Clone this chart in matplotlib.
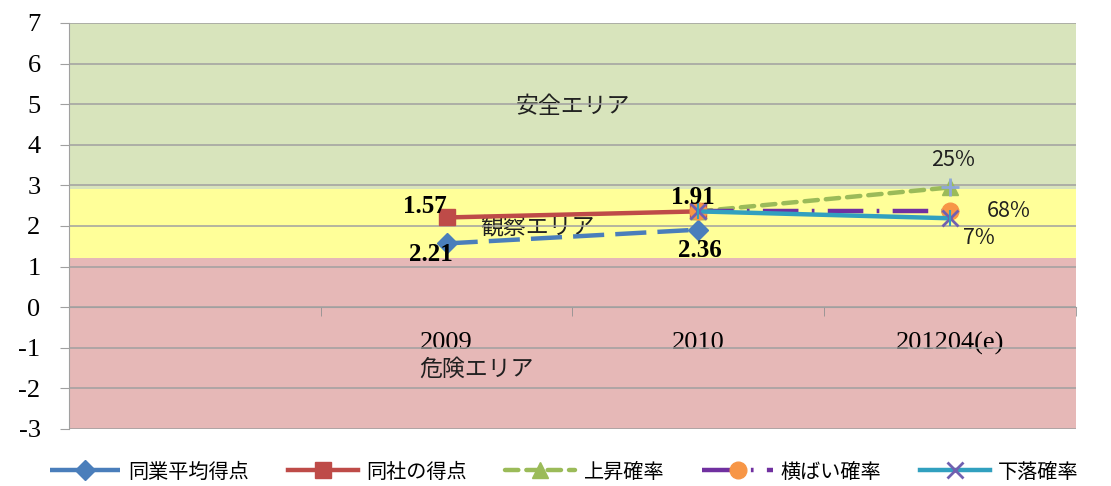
import matplotlib
matplotlib.use("Agg")
import matplotlib.pyplot as plt
from matplotlib.ticker import FixedLocator

plt.rcParams['font.family'] = ['Noto Sans CJK JP', 'DejaVu Sans']
plt.rcParams['axes.unicode_minus'] = False

# categories on the x axis (first slot is left empty in the original)
categories = ['', '2009', '2010', '201204(e)']

# zone bands: (bottom, top, label)
zones = [(2.92, 7, '安全エリア'), (1.2, 2.92, '観察エリア'), (-3, 1.2, '危険エリア')]
zone_label_pos = [(1.5, 4.95), (1.36, 1.97), (1.12, -1.52)]

avg_x = [1, 2]
avg_y = [1.57, 1.91]
avg_labels = ['2.21', '2.36']

co_x = [1, 2]
co_y = [2.21, 2.36]
co_labels = ['1.57', '1.91']

up_x = [2, 3]
up_y = [2.36, 2.95]
flat_y = [2.36, 2.36]
down_y = [2.36, 2.19]
prob_labels = ['25%', '68%', '7%']

fig = plt.figure(figsize=(11.11, 4.86), dpi=100)
ax = fig.add_axes([0.0621, 0.1173, 0.9064, 0.8354])

zone_colors = ['#d8e4bc', '#ffff99', '#e6b8b7']
for (lo, hi, name), c, (tx, ty) in zip(zones, zone_colors, zone_label_pos):
    ax.axhspan(lo, hi, color=c, zorder=0, lw=0)
    ax.text(tx, ty, name, ha='center', va='center', fontsize=16.5,
            color='#202020', zorder=2)

ax.set_xlim(-0.5, 3.5)
ax.set_ylim(-3, 7)
ax.set_yticks(range(-3, 8))
ax.yaxis.grid(True, color='#a0a0a0', lw=1.1, zorder=1)
ax.set_axisbelow(False)
for lab in ax.get_yticklabels():
    lab.set_family(['Liberation Serif'])
ax.tick_params(axis='y', labelsize=19, length=6.5, color='#a0a0a0', pad=14)

ax.spines['top'].set_visible(False)
ax.spines['right'].set_visible(False)
ax.spines['left'].set_color('#a0a0a0')
ax.spines['bottom'].set_position(('data', 0))
ax.spines['bottom'].set_color('#a0a0a0')
ax.set_xticks(range(len(categories)))
ax.set_xticklabels(categories, family=['Liberation Serif'], fontsize=19)
ax.tick_params(axis='x', which='major', length=0, pad=18)
ax.xaxis.set_minor_locator(FixedLocator([0.5, 1.5, 2.5, 3.5]))
ax.tick_params(axis='x', which='minor', length=6.5, color='#909090')

l1, = ax.plot(avg_x, avg_y, color='#4a7ebb', lw=3.2, dashes=(7, 2.5),
              marker='D', ms=10, mfc='#4a7ebb', mec='#4a7ebb', zorder=3,
              label='同業平均得点')
l2, = ax.plot(co_x, co_y, color='#be4b48', lw=3.2,
              marker='s', ms=11, mfc='#be4b48', mec='#be4b48', zorder=3,
              label='同社の得点')
l3, = ax.plot(up_x, up_y, color='#9bbb59', lw=3.2, dashes=(3, 1.8),
              dash_capstyle='round', marker='^', ms=12, mfc='#9bbb59',
              mec='#9bbb59', zorder=4, label='上昇確率')
ax.plot(up_x[-1], up_y[-1], marker='+', ms=13, mew=2, color='#8fa8d8', zorder=4)
l4, = ax.plot(up_x, flat_y, color='#7030a0', lw=3.2,
              dashes=(8, 3, 0.6, 3), marker='o', ms=12, mfc='#f79646',
              mec='#f79646', zorder=4, label='横ばい確率')
l5, = ax.plot(up_x, down_y, color='#31a0bf', lw=3.2, marker='x', ms=12,
              mew=2, mec='#7060b0', zorder=5, label='下落確率')
ax.plot(up_x, down_y, ls='none', marker='|', ms=12, mew=1.5, color='#31a0bf',
        zorder=5)

serif_bold = dict(family=['Liberation Serif'], fontsize=18, fontweight='bold',
                  ha='center', va='center', zorder=6)
for x, y, t, off in zip(co_x, co_y, co_labels, [(-16, 8), (-4, 10)]):
    ax.annotate(t, (x, y), xytext=off, textcoords='offset points', **serif_bold)
for x, y, t, off in zip(avg_x, avg_y, avg_labels, [(-11, -8), (1, -15)]):
    ax.annotate(t, (x, y), xytext=off, textcoords='offset points', **serif_bold)

ends = [(up_x[-1], up_y[-1]), (up_x[-1], flat_y[-1]), (up_x[-1], down_y[-1])]
for (x, y), t, off in zip(ends, prob_labels, [(2, 20), (42, 0), (21, -14)]):
    ax.annotate(t, (x, y), xytext=off, textcoords='offset points',
                ha='center', va='center', fontsize=15.5, color='#202020', zorder=6)

fig.legend(handles=[l1, l2, l3, l4, l5], loc='center',
           bbox_to_anchor=(0.508, 1 - 472 / 486), ncol=5, frameon=False,
           fontsize=14.5, handlelength=3.5, handletextpad=0.4,
           columnspacing=1.9, numpoints=1, borderpad=0.2)

fig.savefig('out.png', dpi=100, facecolor='white')
